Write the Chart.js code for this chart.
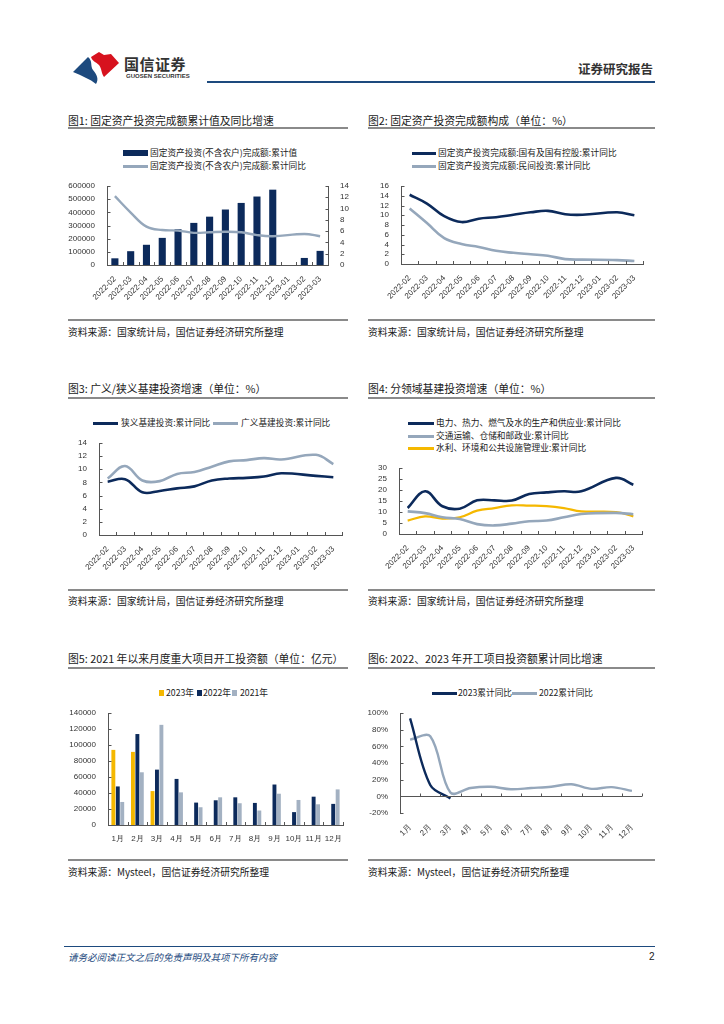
<!DOCTYPE html>
<html>
<head>
<meta charset="utf-8">
<script src="https://cdn.jsdelivr.net/npm/chart.js@4.4.0/dist/chart.umd.min.js"></script>
<style>
  html, body { margin:0; padding:0; background:#fff; }
  body { width:724px; height:1024px; position:relative; overflow:hidden; font-family:'Noto Sans CJK SC', sans-serif; color:#222; }
  .abs { position:absolute; white-space:nowrap; }
  .title { font-size:10.8px; line-height:12px; color:#1a1a1a; }
  .sep { position:absolute; height:1.5px; background:#8a8a8a; }
  .src { font-size:9.8px; line-height:11px; color:#1a1a1a; }
  .lg { font-size:8.7px; line-height:10px; color:#222; }
  .sw { position:absolute; }
  canvas { position:absolute; }
</style>
</head>
<body>

<!-- header -->
<svg class="abs" style="left:64px;top:45px" width="64" height="45" viewBox="64 45 64 45">
  <path d="M73,72 L88,57 C93,61 90,66 93,70 C97,75 99,79 96,84 C90,79 82,76 73,72 Z" fill="#1d4a7e"/>
  <path d="M91,57 L99,52 L104,55 L111,54 L119,63 L104,77 C101,73 102,69 99,65 C96,62 92,61 91,57 Z" fill="#d7121e"/>
</svg>
<div class="abs" style="left:124px;top:55px;font-size:15px;line-height:17px;font-weight:bold;color:#333;letter-spacing:0.5px">国信证券</div>
<div class="abs" style="left:126px;top:73px;font-size:6px;line-height:7px;font-weight:bold;color:#333;font-family:'Liberation Sans',Arial,sans-serif">GUOSEN SECURITIES</div>
<div class="abs" style="left:578px;top:61px;font-size:12.5px;line-height:15px;font-weight:bold;color:#333">证券研究报告</div>
<div class="abs" style="left:207px;top:81px;width:448px;height:2px;background:#1d4a7e"></div>

<!-- panel titles -->
<div class="abs title" style="left:68px;top:114px">图1: 固定资产投资完成额累计值及同比增速</div>
<div class="sep" style="left:68px;top:127px;width:280px"></div>
<div class="abs title" style="left:368px;top:114px">图2: 固定资产投资完成额构成（单位：%）</div>
<div class="sep" style="left:368px;top:127px;width:287px"></div>

<div class="abs title" style="left:68px;top:382px">图3: 广义/狭义基建投资增速（单位：%）</div>
<div class="sep" style="left:68px;top:397px;width:280px"></div>
<div class="abs title" style="left:368px;top:382px">图4: 分领域基建投资增速（单位：%）</div>
<div class="sep" style="left:368px;top:397px;width:287px"></div>

<div class="abs title" style="left:68px;top:652px">图5: 2021 年以来月度重大项目开工投资额（单位：亿元）</div>
<div class="sep" style="left:68px;top:667px;width:280px"></div>
<div class="abs title" style="left:368px;top:652px">图6: 2022、2023 年开工项目投资额累计同比增速</div>
<div class="sep" style="left:368px;top:667px;width:287px"></div>

<!-- legends -->
<div class="sw" style="left:123px;top:150px;width:25px;height:6px;background:#0c2a5b"></div>
<div class="abs lg" style="left:150px;top:148px">固定资产投资(不含农户)完成额:累计值</div>
<div class="sw" style="left:123px;top:165px;width:25px;height:2.5px;background:#95a7bb"></div>
<div class="abs lg" style="left:150px;top:161px">固定资产投资(不含农户)完成额:累计同比</div>

<div class="sw" style="left:412px;top:152px;width:24px;height:2.5px;background:#0c2a5b"></div>
<div class="abs lg" style="left:438px;top:148px">固定资产投资完成额:国有及国有控股:累计同比</div>
<div class="sw" style="left:412px;top:165px;width:24px;height:2.5px;background:#95a7bb"></div>
<div class="abs lg" style="left:438px;top:161px">固定资产投资完成额:民间投资:累计同比</div>

<div class="sw" style="left:93px;top:422px;width:25px;height:2.5px;background:#0c2a5b"></div>
<div class="abs lg" style="left:121px;top:418px">狭义基建投资:累计同比</div>
<div class="sw" style="left:213px;top:422px;width:25px;height:2.5px;background:#95a7bb"></div>
<div class="abs lg" style="left:241px;top:418px">广义基建投资:累计同比</div>

<div class="sw" style="left:408px;top:422px;width:26px;height:2.5px;background:#0c2a5b"></div>
<div class="abs lg" style="left:436px;top:418px">电力、热力、燃气及水的生产和供应业:累计同比</div>
<div class="sw" style="left:408px;top:435px;width:26px;height:2.5px;background:#95a7bb"></div>
<div class="abs lg" style="left:436px;top:431px">交通运输、仓储和邮政业:累计同比</div>
<div class="sw" style="left:408px;top:447px;width:26px;height:2.5px;background:#f5b800"></div>
<div class="abs lg" style="left:436px;top:443px">水利、环境和公共设施管理业:累计同比</div>

<div class="sw" style="left:159px;top:690px;width:5px;height:6px;background:#f5b800"></div>
<div class="abs lg" style="left:166px;top:688px">2023年</div>
<div class="sw" style="left:197px;top:690px;width:5px;height:6px;background:#0c2a5b"></div>
<div class="abs lg" style="left:203px;top:688px">2022年</div>
<div class="sw" style="left:232px;top:690px;width:5px;height:6px;background:#a3b1c2"></div>
<div class="abs lg" style="left:240px;top:688px">2021年</div>

<div class="sw" style="left:432px;top:692px;width:25px;height:2.5px;background:#0c2a5b"></div>
<div class="abs lg" style="left:458px;top:688px">2023累计同比</div>
<div class="sw" style="left:512px;top:692px;width:25px;height:2.5px;background:#95a7bb"></div>
<div class="abs lg" style="left:539px;top:688px">2022累计同比</div>

<!-- sources -->
<div class="sep" style="left:68px;top:319px;width:280px"></div>
<div class="abs src" style="left:68px;top:327px">资料来源：国家统计局，国信证券经济研究所整理</div>
<div class="sep" style="left:368px;top:319px;width:287px"></div>
<div class="abs src" style="left:368px;top:327px">资料来源：国家统计局，国信证券经济研究所整理</div>
<div class="sep" style="left:68px;top:589px;width:280px"></div>
<div class="abs src" style="left:68px;top:596px">资料来源：国家统计局，国信证券经济研究所整理</div>
<div class="sep" style="left:368px;top:589px;width:287px"></div>
<div class="abs src" style="left:368px;top:596px">资料来源：国家统计局，国信证券经济研究所整理</div>
<div class="sep" style="left:68px;top:859px;width:280px"></div>
<div class="abs src" style="left:68px;top:867px">资料来源：Mysteel，国信证券经济研究所整理</div>
<div class="sep" style="left:368px;top:859px;width:287px"></div>
<div class="abs src" style="left:368px;top:867px">资料来源：Mysteel，国信证券经济研究所整理</div>

<!-- footer -->
<div class="abs" style="left:64px;top:946px;width:591px;height:1px;background:#1d4a7e"></div>
<div class="abs" style="left:68px;top:951px;font-size:9.5px;line-height:12px;font-style:italic;color:#1d4a7e">请务必阅读正文之后的免责声明及其项下所有内容</div>
<div class="abs" style="left:649px;top:951px;font-size:10px;line-height:12px;color:#222;font-family:'Liberation Sans',Arial,sans-serif">2</div>

<canvas id="c1" style="left:64px;top:178px" width="290" height="130"></canvas>
<canvas id="c2" style="left:366px;top:178px" width="290" height="130"></canvas>
<canvas id="c3" style="left:64px;top:435px" width="290" height="140"></canvas>
<canvas id="c4" style="left:366px;top:460px" width="290" height="115"></canvas>
<canvas id="c5" style="left:64px;top:705px" width="290" height="140"></canvas>
<canvas id="c6" style="left:366px;top:705px" width="290" height="135"></canvas>

<script>
// ---- data ----
const MONTHS_A = ['2022-02','2022-03','2022-04','2022-05','2022-06','2022-07','2022-08','2022-09','2022-10','2022-11','2022-12','2023-01','2023-02','2023-03'];
const MONTHS_CN = ['1月','2月','3月','4月','5月','6月','7月','8月','9月','10月','11月','12月'];

// 图1
const faiCum  = [50763, 104872, 153544, 205964, 271430, 319812, 367106, 421412, 471459, 520043, 572138, null, 53577, 107282];
const faiYoy  = [12.2, 9.3, 6.8, 6.2, 6.1, 5.7, 5.8, 5.9, 5.8, 5.3, 5.1, null, 5.5, 5.1];
// 图2
const stateYoy   = [14.2, 12.4, 9.8, 8.6, 9.3, 9.6, 10.1, 10.6, 10.9, 10.2, 10.1, null, 10.6, 10.0];
const privateYoy = [11.4, 8.4, 5.3, 4.1, 3.5, 2.7, 2.3, 2.0, 1.7, 1.0, 0.9, null, 0.8, 0.6];
// 图3
const narrowInfra = [8.1, 8.5, 6.5, 6.7, 7.1, 7.4, 8.3, 8.6, 8.7, 8.9, 9.4, null, 9.0, 8.8];
const broadInfra  = [8.6, 10.5, 8.3, 8.2, 9.3, 9.6, 10.4, 11.2, 11.4, 11.7, 11.5, null, 12.2, 10.8];
// 图4
const powerYoy     = [11.8, 19.4, 12.6, 11.5, 15.3, 15.3, 15.2, 18.2, 18.9, 19.4, 19.4, null, 25.5, 22.4];
const transportYoy = [10.3, 9.5, 7.6, 6.8, 4.5, 3.9, 4.7, 5.8, 6.1, 7.6, 9.1, null, 9.6, 9.0];
const waterYoy     = [6.1, 8.0, 7.0, 7.6, 10.6, 11.8, 13.0, 12.9, 12.7, 11.8, 10.3, null, 10.0, 8.0];
// 图5
const proj2023 = [93900, 91400, 42400, null, null, null, null, null, null, null, null, null];
const proj2022 = [48200, 113700, 69200, 57600, 28000, 30900, 34600, 27600, 50600, 16100, 35400, 26400];
const proj2021 = [28800, 65900, 125200, 40800, 22200, 34600, 27200, 18100, 39100, 31300, 25900, 44500];
// 图6
const cum2023 = [93.5, 13.5, -2.5, null, null, null, null, null, null, null, null, null];
const cum2022 = [68, 72, 4.5, 10, 11.5, 8.5, 10, 11.5, 14.5, 9, 11, 6.5];

// ---- style ----
const NAVY = '#0c2a5b', GREY = '#95a7bb', GREY_BAR = '#a3b1c2', GOLD = '#f5b800';
const AXIS = '#555';
const TF = "'Liberation Sans', Arial, sans-serif";
const TICK = { color:'#333', font:{ family:TF, size:8, lineHeight:1 } };

// small inside tick marks like the original (y: to the right, x: upward at category edges)
const innerTicks = {
  id: 'innerTicks',
  afterDatasetsDraw(chart, args, opts) {
    const { ctx, chartArea:a, scales } = chart;
    ctx.save();
    ctx.strokeStyle = AXIS; ctx.lineWidth = 1;
    const seg = (x1,y1,x2,y2) => { ctx.beginPath(); ctx.moveTo(x1,y1); ctx.lineTo(x2,y2); ctx.stroke(); };
    Object.values(scales).forEach(s => {
      if (s.axis !== 'y') return;
      const right = s.position === 'right';
      const px = Math.round(right ? a.right : a.left) + 0.5;
      s.ticks.forEach((t, i) => { const y = Math.round(s.getPixelForTick(i)) + 0.5; seg(px, y, px + (right ? -3 : 3), y); });
    });
    const x = scales.x, n = chart.data.labels.length, w = (x.right - x.left) / n;
    let by = a.bottom;
    if (opts.zeroAxis) {
      by = Math.round(scales.y.getPixelForValue(0)) + 0.5;
      seg(a.left, by, a.right, by);
    }
    for (let i = 0; i <= n; i++) { const px = Math.round(x.left + i * w) + 0.5; seg(px, by, px, by - 3); }
    ctx.restore();
  }
};

const fixW = w => s => { s.width = w; };
const fixH = h => s => { s.height = h; };

function xCat(h, rot, showBorder) {
  return {
    offset:true,
    grid:{ display:false },
    border:{ display:showBorder !== false, color:AXIS, width:1 },
    ticks:{ ...TICK, autoSkip:false, maxRotation:rot, minRotation:rot, padding:2 },
    afterFit: fixH(h),
  };
}
function yLin(min, max, step, w, pos, fmt) {
  return {
    position: pos || 'left',
    min, max,
    grid:{ display:false },
    border:{ display:true, color:AXIS, width:1 },
    ticks:{ ...TICK, stepSize:step, autoSkip:false, maxTicksLimit:20, padding:4, callback: fmt || (v => v) },
    afterFit: fixW(w),
  };
}
function base(pad, zeroAxis) {
  return {
    responsive:false, animation:false,
    layout:{ padding:pad },
    plugins:{ legend:{ display:false }, tooltip:{ enabled:false }, innerTicks:{ zeroAxis:!!zeroAxis } },
  };
}
const lineDs = (data, color, extra) => ({
  type:'line', data, borderColor:color, backgroundColor:color, borderWidth:2.2,
  pointRadius:0, tension:0.4, spanGaps:true, ...(extra || {})
});

// 图1
new Chart(document.getElementById('c1'), {
  type:'bar',
  data:{ labels:MONTHS_A, datasets:[
    { data:faiCum, backgroundColor:NAVY, barPercentage:0.45, categoryPercentage:1, order:1, yAxisID:'y' },
    lineDs(faiYoy, GREY, { yAxisID:'y1', order:0, borderWidth:2.4 }),
  ]},
  options:{ ...base({ top:7 }),
    scales:{ x:xCat(43, 45), y:yLin(0, 600000, 100000, 43), y1:yLin(0, 14, 2, 26, 'right') } },
  plugins:[innerTicks],
});

// 图2
new Chart(document.getElementById('c2'), {
  type:'line',
  data:{ labels:MONTHS_A, datasets:[
    lineDs(stateYoy, NAVY, { borderWidth:2.6 }),
    lineDs(privateYoy, GREY, { borderWidth:2.6 }),
  ]},
  options:{ ...base({ top:7, right:13 }),
    scales:{ x:xCat(44, 45), y:yLin(0, 16, 2, 35) } },
  plugins:[innerTicks],
});

// 图3
new Chart(document.getElementById('c3'), {
  type:'line',
  data:{ labels:MONTHS_A, datasets:[
    lineDs(narrowInfra, NAVY, { borderWidth:2.6 }),
    lineDs(broadInfra, GREY, { borderWidth:2.6 }),
  ]},
  options:{ ...base({ top:7, right:12 }),
    scales:{ x:xCat(40, 45), y:yLin(0, 14, 2, 35) } },
  plugins:[innerTicks],
});

// 图4
new Chart(document.getElementById('c4'), {
  type:'line',
  data:{ labels:MONTHS_A, datasets:[
    lineDs(powerYoy, NAVY, { borderWidth:2.6 }),
    lineDs(transportYoy, GREY, { borderWidth:2.6 }),
    lineDs(waterYoy, GOLD, { borderWidth:2.2 }),
  ]},
  options:{ ...base({ top:8, right:14 }),
    scales:{ x:xCat(41, 45), y:yLin(0, 30, 5, 33) } },
  plugins:[innerTicks],
});

// 图5
new Chart(document.getElementById('c5'), {
  type:'bar',
  data:{ labels:MONTHS_CN, datasets:[
    { data:proj2023, backgroundColor:GOLD, barPercentage:0.88, categoryPercentage:0.68 },
    { data:proj2022, backgroundColor:NAVY, barPercentage:0.88, categoryPercentage:0.68 },
    { data:proj2021, backgroundColor:GREY_BAR, barPercentage:0.88, categoryPercentage:0.68 },
  ]},
  options:{ ...base({ top:7, right:11 }),
    scales:{ x:xCat(20, 0), y:yLin(0, 140000, 20000, 44) } },
  plugins:[innerTicks],
});

// 图6
new Chart(document.getElementById('c6'), {
  type:'line',
  data:{ labels:MONTHS_CN, datasets:[
    lineDs(cum2023, NAVY, { borderWidth:2.4, tension:0.35 }),
    lineDs(cum2022, GREY, { borderWidth:2.4, tension:0.35 }),
  ]},
  options:{ ...base({ top:7, right:14 }, true),
    scales:{ x:xCat(27, 45, false), y:yLin(-20, 100, 20, 34, 'left', v => v + '%') } },
  plugins:[innerTicks],
});
</script>
</body>
</html>
